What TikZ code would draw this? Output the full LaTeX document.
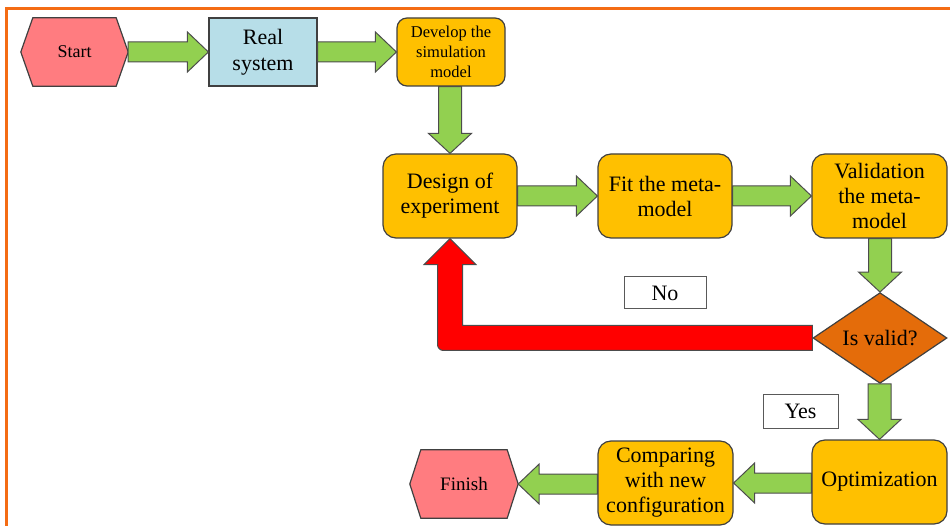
\documentclass[tikz,border=0pt]{standalone}
\usepackage{fontspec}
\setmainfont{Liberation Serif}
\newfontfamily\tnr{Liberation Serif}
\usetikzlibrary{calc,shapes.geometric}
\pgfdeclarelayer{bg}
\pgfsetlayers{bg,main}
\definecolor{greenc}{HTML}{92D050}
\definecolor{goldc}{HTML}{FFC000}
\definecolor{pinkc}{HTML}{FF7C80}
\definecolor{bluec}{HTML}{B7DEE8}
\definecolor{diac}{HTML}{E46C0A}
\definecolor{redc}{HTML}{FF0000}
\definecolor{framec}{HTML}{F46C14}
\definecolor{edgec}{HTML}{404040}
% horizontal block arrow to the right
\newcommand{\blockR}[2]{%
 \draw[garrow] let \p1=(#1), \p2=(#2) in
  (\x1,{\y2+10pt}) -- ({\x2-21pt},{\y2+10pt}) -- ({\x2-21pt},{\y2+20pt}) -- (\x2,\y2)
  -- ({\x2-21pt},{\y2-20pt}) -- ({\x2-21pt},{\y2-10pt}) -- (\x1,{\y2-10pt}) -- cycle;}
% horizontal block arrow to the left
\newcommand{\blockL}[2]{%
 \draw[garrow] let \p1=(#1), \p2=(#2) in
  (\x1,{\y2+10pt}) -- ({\x2+21pt},{\y2+10pt}) -- ({\x2+21pt},{\y2+20pt}) -- (\x2,\y2)
  -- ({\x2+21pt},{\y2-20pt}) -- ({\x2+21pt},{\y2-10pt}) -- (\x1,{\y2-10pt}) -- cycle;}
% vertical block arrow downwards
\newcommand{\blockD}[2]{%
 \draw[garrow] let \p1=(#1), \p2=(#2) in
  ({\x2-11.5pt},\y1) -- ({\x2-11.5pt},{\y2+20pt}) -- ({\x2-21.5pt},{\y2+20pt}) -- (\x2,\y2)
  -- ({\x2+21.5pt},{\y2+20pt}) -- ({\x2+11.5pt},{\y2+20pt}) -- ({\x2+11.5pt},\y1) -- cycle;}
\begin{document}
\begin{tikzpicture}[x=1pt,y=-1pt,
  txt/.style={font=\tnr\fontsize{22}{25}\selectfont, text=black, align=center, inner sep=1pt},
  goldbox/.style={txt, draw=edgec, fill=goldc, line width=1.2pt, rounded corners=13pt,
     minimum width=134pt, minimum height=84pt},
  bluebox/.style={txt, draw=edgec, fill=bluec, line width=1.2pt,
     minimum width=108pt, minimum height=68pt},
  hexn/.style={txt, minimum width=107pt, minimum height=68pt, inner sep=0pt},
  hexdraw/.style={draw=edgec, fill=pinkc, line width=1.2pt, line join=miter},
  dia/.style={txt, shape=diamond, draw=edgec, fill=diac, line width=1.2pt,
     minimum width=134pt, minimum height=71pt, inner sep=0pt},
  lbl/.style={txt, draw=black!65, fill=white, line width=1pt},
  garrow/.style={fill=greenc, draw=black!70, line width=1pt, line join=miter},
  rarrow/.style={fill=redc, draw=black!70, line width=1pt, line join=miter},
  frame/.style={draw=framec, line width=3pt}]
\useasboundingbox (0,0) rectangle (950,526);
\draw[frame] (6.5,526) -- (6.5,8.5) -- (950,8.5);

\node[hexn, font=\tnr\fontsize{18}{20}\selectfont] (start) at (74.5,52) {Start};
\node[bluebox, font=\tnr\fontsize{22}{26}\selectfont] (real) at (263,52) {Real\\system};
\node[goldbox, minimum width=108pt, minimum height=68pt, rounded corners=10pt,
      font=\tnr\fontsize{16.5}{20}\selectfont] (develop) at (451,52) {Develop the\\simulation\\model};
\node[goldbox] (design) at (450,196) {Design of\\experiment};
\node[goldbox] (fit) at (665,196) {Fit the meta-\\model};
\node[goldbox, minimum width=135pt] (validation) at (879.5,196) {Validation\\the meta-\\model};
\node[dia] (isvalid) at (880,338) {Is valid?};
\node[goldbox, minimum width=135pt] (optim) at (879.5,482) {Optimization};
\node[goldbox, minimum width=135pt] (compare) at (665.5,483) {Comparing\\with new\\configuration};
\node[hexn, minimum width=108pt, font=\tnr\fontsize{19}{20}\selectfont] (finish) at (464,484) {Finish};
\node[lbl, minimum width=82pt, minimum height=32pt] (no) at (665,293) {No};
\node[lbl, minimum width=75pt, minimum height=34pt] (yes) at (800.5,411) {Yes};

\begin{pgfonlayer}{bg}
\draw[hexdraw] (start.west) -- ([xshift=12pt]start.north west) -- ([xshift=-12pt]start.north east)
  -- (start.east) -- ([xshift=-12pt]start.south east) -- ([xshift=12pt]start.south west) -- cycle;
\draw[hexdraw] (finish.west) -- ([xshift=11pt]finish.north west) -- ([xshift=-11pt]finish.north east)
  -- (finish.east) -- ([xshift=-11pt]finish.south east) -- ([xshift=11pt]finish.south west) -- cycle;
\end{pgfonlayer}

\blockR{start.east}{real.west}
\blockR{real.east}{develop.west}
\blockD{develop.south}{design.north}
\blockR{design.east}{fit.west}
\blockR{fit.east}{validation.west}
\blockD{validation.south}{isvalid.north}
\blockD{isvalid.south}{optim.north}
\blockL{optim.west}{compare.east}
\blockL{compare.west}{finish.east}

\draw[rarrow] let \p1=(isvalid.west), \p2=(design.south) in
  (\x1,{\y1+12.5pt}) -- ({\x2+12.5pt},{\y1+12.5pt}) -- ({\x2+12.5pt},{\y2-26pt})
  -- ({\x2+26pt},{\y2-26pt}) -- (\x2,\y2) -- ({\x2-26pt},{\y2-26pt}) -- ({\x2-12.5pt},{\y2-26pt})
  -- ({\x2-12.5pt},{\y1-6.5pt}) arc[start angle=180,end angle=270,radius=6pt]
  -- (\x1,{\y1-12.5pt}) -- cycle;
\end{tikzpicture}
\end{document}
